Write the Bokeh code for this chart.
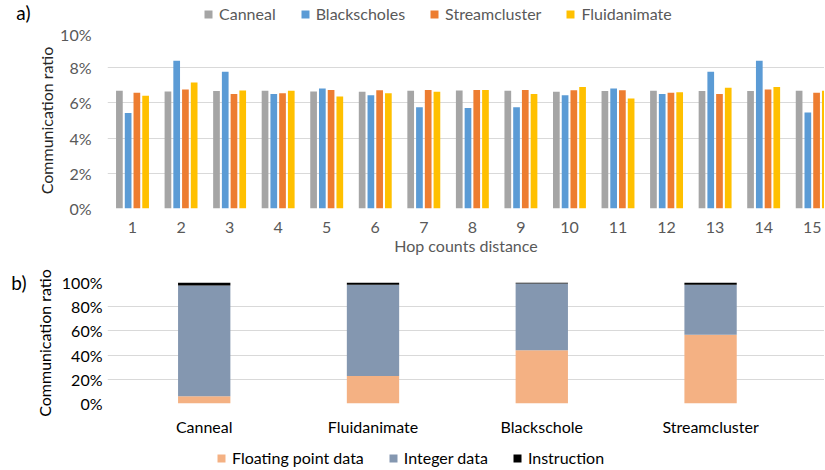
from bokeh.plotting import figure
from bokeh.layouts import column
from bokeh.models import (ColumnDataSource, FixedTicker, PrintfTickFormatter, Legend,
                          LegendItem, Range1d, LinearAxis)
from bokeh.transform import dodge
from bokeh.embed import file_html
from bokeh.resources import INLINE

FONT = "Lato"

# ---- data (a) ----
hops = list(range(1, 16))
hop_labels = [str(h) for h in hops]
canneal = [6.69, 6.65, 6.67, 6.69, 6.65, 6.63, 6.69, 6.70, 6.69, 6.63, 6.67, 6.69, 6.67, 6.67, 6.69]
blackscholes = [5.43, 8.40, 7.77, 6.50, 6.82, 6.44, 5.75, 5.71, 5.75, 6.44, 6.82, 6.51, 7.77, 8.40, 5.45]
streamcluster = [6.57, 6.76, 6.51, 6.55, 6.74, 6.72, 6.74, 6.74, 6.74, 6.72, 6.72, 6.57, 6.51, 6.76, 6.57]
fluidanimate = [6.40, 7.16, 6.70, 6.69, 6.36, 6.55, 6.63, 6.74, 6.50, 6.91, 6.25, 6.61, 6.86, 6.91, 6.69]
series_a = ["Canneal", "Blackscholes", "Streamcluster", "Fluidanimate"]
keys_a = ["canneal", "blackscholes", "streamcluster", "fluidanimate"]
y_ticks_a = [0, 2, 4, 6, 8, 10]

# ---- data (b) ----
apps = ["Canneal", "Fluidanimate", "Blackschole", "Streamcluster"]
app_pos = [0, 1, 2, 3]
floating = [6.0, 22.8, 44.0, 56.8]
integer = [91.6, 75.3, 55.2, 41.3]
instruction = [2.4, 1.9, 0.8, 1.9]
series_b = ["Floating point data", "Integer data", "Instruction"]
keys_b = ["fp", "it", "ins"]
y_ticks_b = [0, 20, 40, 60, 80, 100]

colors_a = ["#A5A5A5", "#5B9BD5", "#ED7D31", "#FFC000"]
colors_b = ["#F4B183", "#8497B0", "#000000"]

W = 824
LB = 107  # left border shared by all stacked figures

src_a = ColumnDataSource(dict(hop=hops, canneal=canneal, blackscholes=blackscholes,
                              streamcluster=streamcluster, fluidanimate=fluidanimate))
src_b = ColumnDataSource(dict(x=app_pos, fp=floating, it=integer, ins=instruction))


def style_axis(ax, color):
    ax.axis_line_color = None
    ax.major_tick_line_color = None
    ax.minor_tick_line_color = None
    ax.major_tick_out = 0
    ax.minor_tick_out = 0
    ax.major_label_text_font = FONT
    ax.major_label_text_font_size = "16px"
    ax.major_label_text_color = color
    ax.axis_label_text_font = FONT
    ax.axis_label_text_font_size = "16px"
    ax.axis_label_text_font_style = "normal"


def panel_label(text, standoff, align):
    ax = LinearAxis(ticker=FixedTicker(ticks=[]), axis_label=text)
    ax.axis_line_color = None
    ax.major_tick_line_color = None
    ax.minor_tick_line_color = None
    ax.major_tick_out = 0
    ax.minor_tick_out = 0
    ax.major_label_standoff = 0
    ax.major_label_text_font_size = "1px"
    ax.axis_label_text_font = FONT
    ax.axis_label_text_font_size = "19px"
    ax.axis_label_text_font_style = "normal"
    ax.axis_label_text_color = "#000000"
    ax.axis_label_standoff = standoff
    try:
        ax.axis_label_orientation = "horizontal"
    except Exception:
        pass
    try:
        ax.axis_label_align = align
    except Exception:
        pass
    return ax


def legend_strip(height, bottom, names, keys, colors, src, xcol, text_color, x0, y0):
    s = figure(width=W, height=height, x_range=Range1d(20, 21), y_range=Range1d(0, 1),
               output_backend="svg", toolbar_location=None,
               x_axis_location=None, y_axis_location=None,
               min_border_left=LB, min_border_right=0, min_border_top=0,
               min_border_bottom=bottom)
    s.outline_line_color = None
    s.xgrid.visible = False
    s.ygrid.visible = False
    items = []
    for n, k, c in zip(names, keys, colors):
        # swatch renderer for the legend only (same series, not shown in this strip)
        r = s.vbar(x=xcol, top=k, width=0.1, source=src, fill_color=c, line_color=None)
        r.visible = False
        items.append(LegendItem(label=n, renderers=[r]))
    leg = Legend(items=items, orientation="horizontal", location=(x0, y0),
                 glyph_width=10, glyph_height=10, label_standoff=6, spacing=24,
                 padding=0, margin=0, label_height=16, click_policy="none",
                 border_line_color=None, background_fill_alpha=0,
                 label_text_font=FONT, label_text_font_size="16px", label_text_color=text_color)
    s.add_layout(leg)
    return s


# ================= legend strip (a) =================
p0 = legend_strip(24, 0, series_a, keys_a, colors_a, src_a, "hop", "#595959", 96, 1)
p0.add_layout(panel_label("a)", 77, "center"), "left")

# ================= figure a =================
p1 = figure(width=W, height=236, x_range=Range1d(0.485, 15.253), y_range=Range1d(0, 10),
            output_backend="svg", toolbar_location=None,
            min_border_left=LB, min_border_right=0, min_border_top=8, min_border_bottom=52)
p1.outline_line_color = None
p1.xgrid.grid_line_color = None
p1.ygrid.grid_line_color = "#D9D9D9"

offsets = [-0.27, -0.09, 0.09, 0.27]
for k, off, c in zip(keys_a, offsets, colors_a):
    p1.vbar(x=dodge("hop", off), top=k, width=0.138, source=src_a,
            fill_color=c, line_color=None)

p1.xaxis.ticker = FixedTicker(ticks=hops)
p1.xaxis.major_label_overrides = {h: l for h, l in zip(hops, hop_labels)}
p1.yaxis.ticker = FixedTicker(ticks=y_ticks_a)
p1.yaxis.formatter = PrintfTickFormatter(format="%d%%")
style_axis(p1.xaxis[0], "#595959")
style_axis(p1.yaxis[0], "#595959")
p1.xaxis.axis_label = "Hop counts distance"
p1.xaxis.axis_label_text_color = "#595959"
p1.xaxis.major_label_standoff = 13
p1.xaxis.axis_label_standoff = 0
p1.yaxis.axis_label = "Communication ratio"
p1.yaxis.axis_label_text_color = "#262626"
p1.yaxis.major_label_standoff = 16
p1.yaxis.axis_label_standoff = 1

# ================= figure b =================
p2 = figure(width=W, height=178, x_range=Range1d(-0.573, 3.675), y_range=Range1d(0, 100),
            output_backend="svg", toolbar_location=None,
            min_border_left=LB, min_border_right=0, min_border_top=22, min_border_bottom=33)
p2.outline_line_color = None
p2.xgrid.grid_line_color = None
p2.ygrid.grid_line_color = "#D9D9D9"
p2.vbar_stack(keys_b, x="x", width=0.31, source=src_b,
              fill_color=colors_b, line_color=None)
p2.xaxis.ticker = FixedTicker(ticks=app_pos)
p2.xaxis.major_label_overrides = {i: a for i, a in zip(app_pos, apps)}
p2.yaxis.ticker = FixedTicker(ticks=y_ticks_b)
p2.yaxis.formatter = PrintfTickFormatter(format="%d%%")
style_axis(p2.xaxis[0], "#000000")
style_axis(p2.yaxis[0], "#000000")
p2.xaxis.major_label_standoff = 13
p2.yaxis.axis_label = "Communication ratio"
p2.yaxis.axis_label_text_color = "#000000"
p2.yaxis.major_label_standoff = 5
p2.yaxis.axis_label_standoff = 5
p2.add_layout(panel_label("b)", 5, "end"), "left")

# ================= legend strip (b) =================
p3 = legend_strip(30, 0, series_b, keys_b, colors_b, src_b, "x", "#000000", 109, 1)

layout = column(p0, p1, p2, p3, spacing=0)
open("out.html", "w").write(file_html(layout, INLINE))
